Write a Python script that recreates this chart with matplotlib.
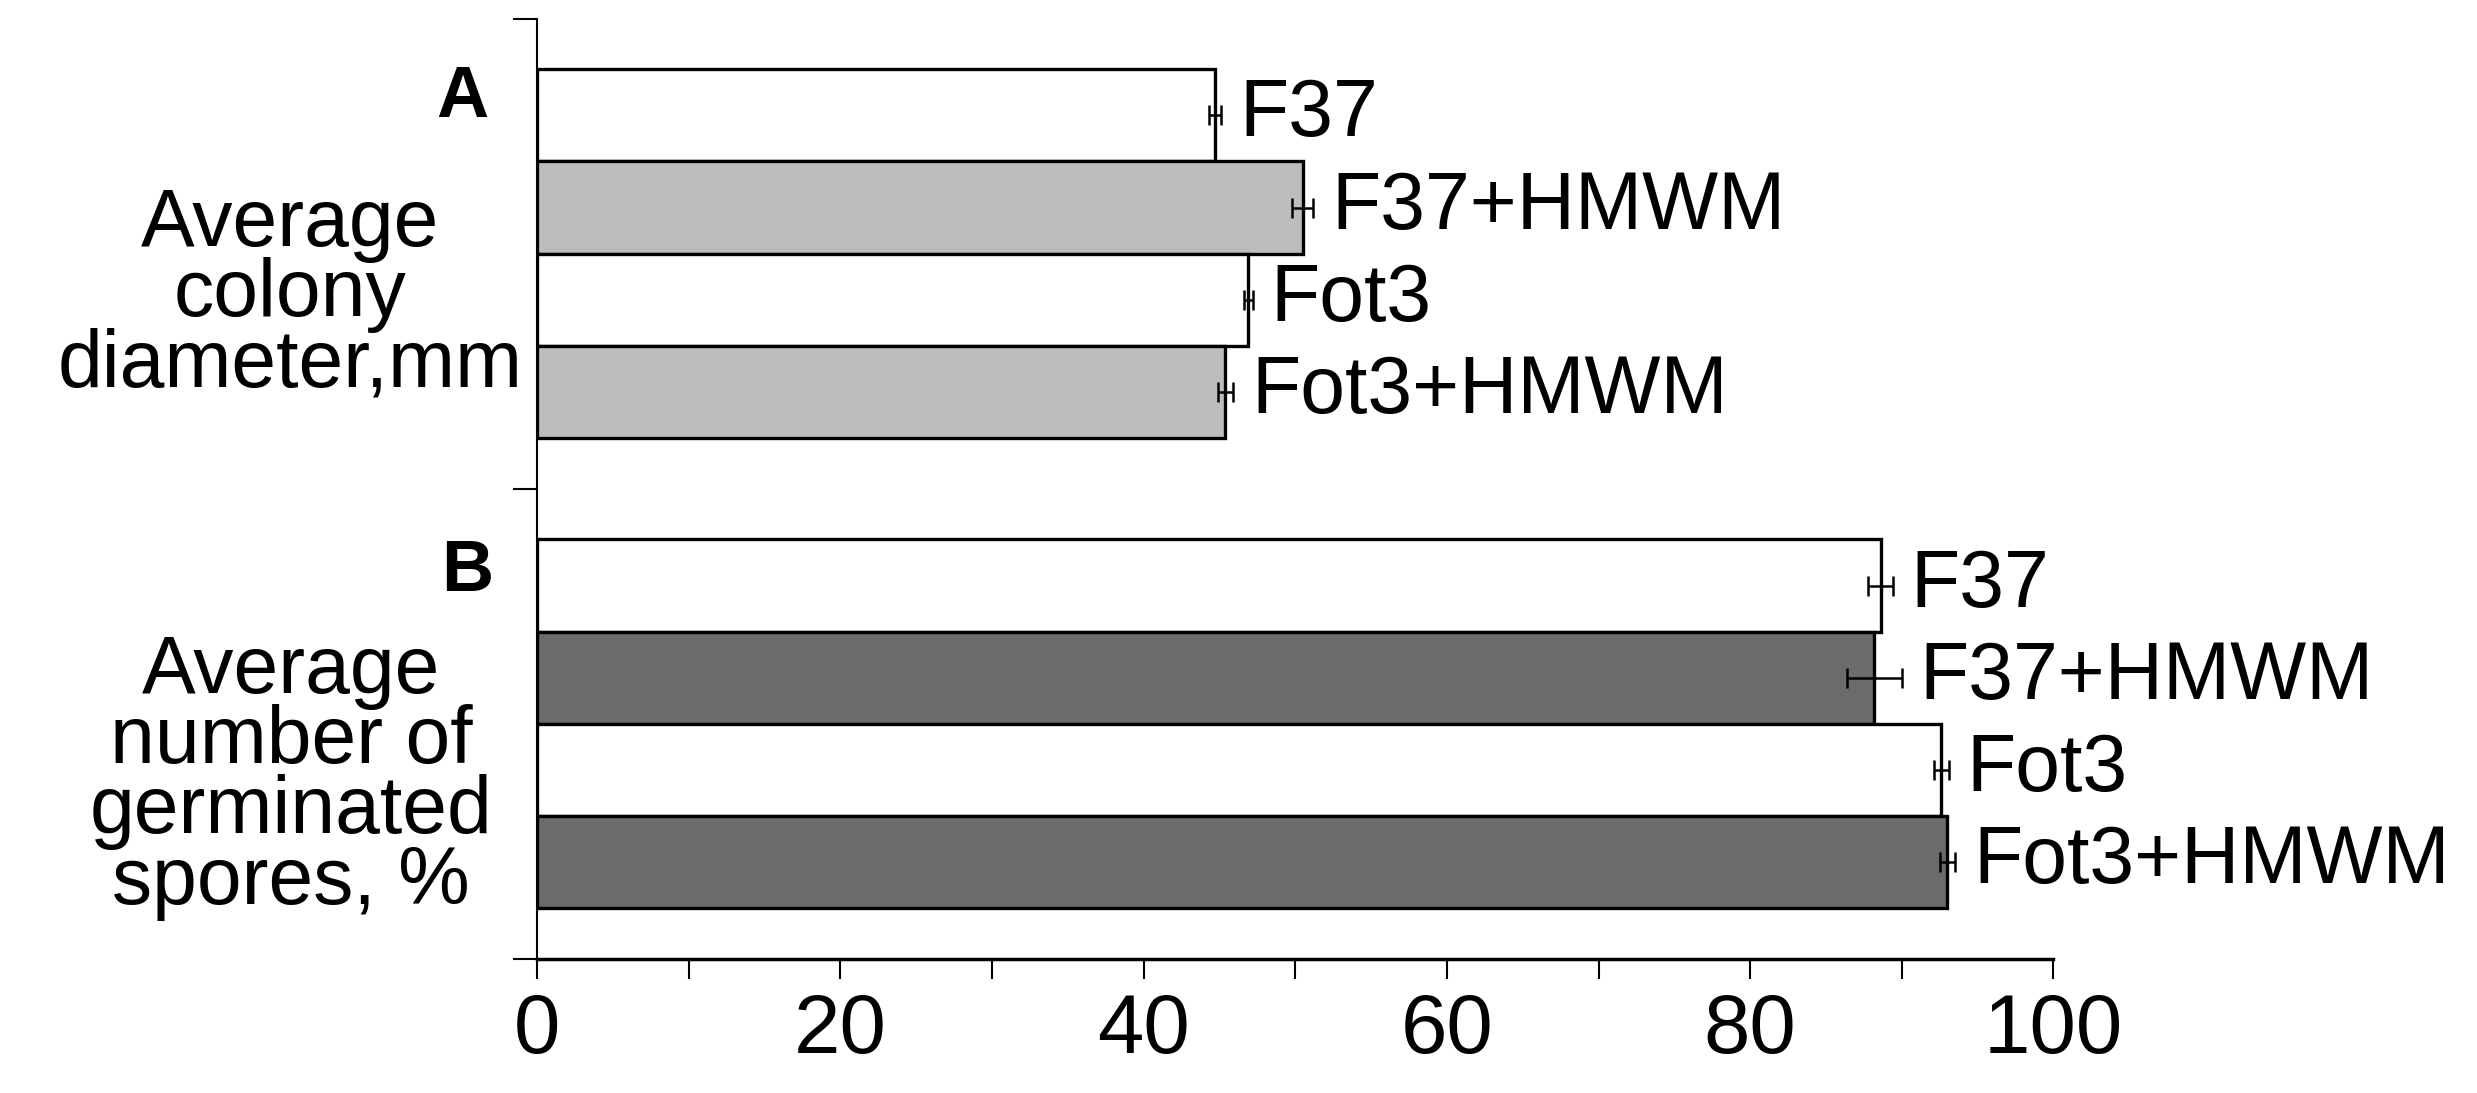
import matplotlib.pyplot as plt
import matplotlib.transforms as mtransforms

plt.rcParams['font.family'] = ['Liberation Sans', 'DejaVu Sans']

# data
strains = ['F37', 'F37+HMWM', 'Fot3', 'Fot3+HMWM']
diameter = [44.7, 50.5, 46.9, 45.4]
diameter_err = [0.4, 0.7, 0.3, 0.5]
germinated = [88.6, 88.2, 92.6, 93.0]
germinated_err = [0.8, 1.8, 0.5, 0.5]
panel_letters = ['A', 'B']
group_titles = ['Average\ncolony\ndiameter,mm',
                'Average\nnumber of\ngerminated\nspores, %']
fills_a = ['white', '#bdbdbd', 'white', '#bdbdbd']
fills_b = ['white', '#6b6b6b', 'white', '#6b6b6b']

group_size = 5.1
margin = 0.55

fig = plt.figure(figsize=(24.77, 10.93), dpi=100)
ax = fig.add_axes([0.2168, 0.1226, 0.6122, 0.8604])

groups = [(diameter, diameter_err, fills_a), (germinated, germinated_err, fills_b)]
for g, (vals, errs, fills) in enumerate(groups):
    ypos = [g * group_size + margin + 0.5 + i for i in range(len(vals))]
    ax.barh(ypos, vals, height=1.0, color=fills, edgecolor='black', linewidth=2.4, zorder=2)
    ax.errorbar(vals, ypos, xerr=errs, fmt='none', ecolor='black',
                elinewidth=1.8, capsize=7, capthick=1.8, zorder=3)
    for v, e, y, name in zip(vals, errs, ypos, strains):
        ax.annotate(name, (v + e, y), xytext=(13, 0), textcoords='offset points',
                    ha='left', va='center', fontsize=58)

blend = mtransforms.blended_transform_factory(ax.transAxes, ax.transData)
ax.text(-0.049, 0.86, panel_letters[0], transform=blend, ha='center', va='center',
        fontsize=52, fontweight='bold')
ax.text(-0.046, 6.0, panel_letters[1], transform=blend, ha='center', va='center',
        fontsize=52, fontweight='bold')
ax.text(-0.163, 3.0, group_titles[0], transform=blend, ha='center', va='center',
        fontsize=58, linespacing=0.9)
ax.text(-0.162, 8.23, group_titles[1], transform=blend, ha='center', va='center',
        fontsize=58, linespacing=0.9)

ax.set_xlim(0, 100)
ax.set_ylim(2 * group_size, 0)
ax.set_xticks(range(0, 101, 20))
ax.set_xticks(range(10, 100, 20), minor=True)
ax.set_yticks([0, group_size, 2 * group_size])
ax.set_yticklabels([])
ax.tick_params(axis='x', which='both', direction='out', length=14.5, width=1.5,
               labelsize=60, pad=9)
ax.tick_params(axis='y', direction='out', length=17, width=1.5)
for s in ['top', 'right']:
    ax.spines[s].set_visible(False)
ax.spines['left'].set_linewidth(1.5)
ax.spines['bottom'].set_linewidth(2.5)

fig.savefig('out.png', dpi=100)
